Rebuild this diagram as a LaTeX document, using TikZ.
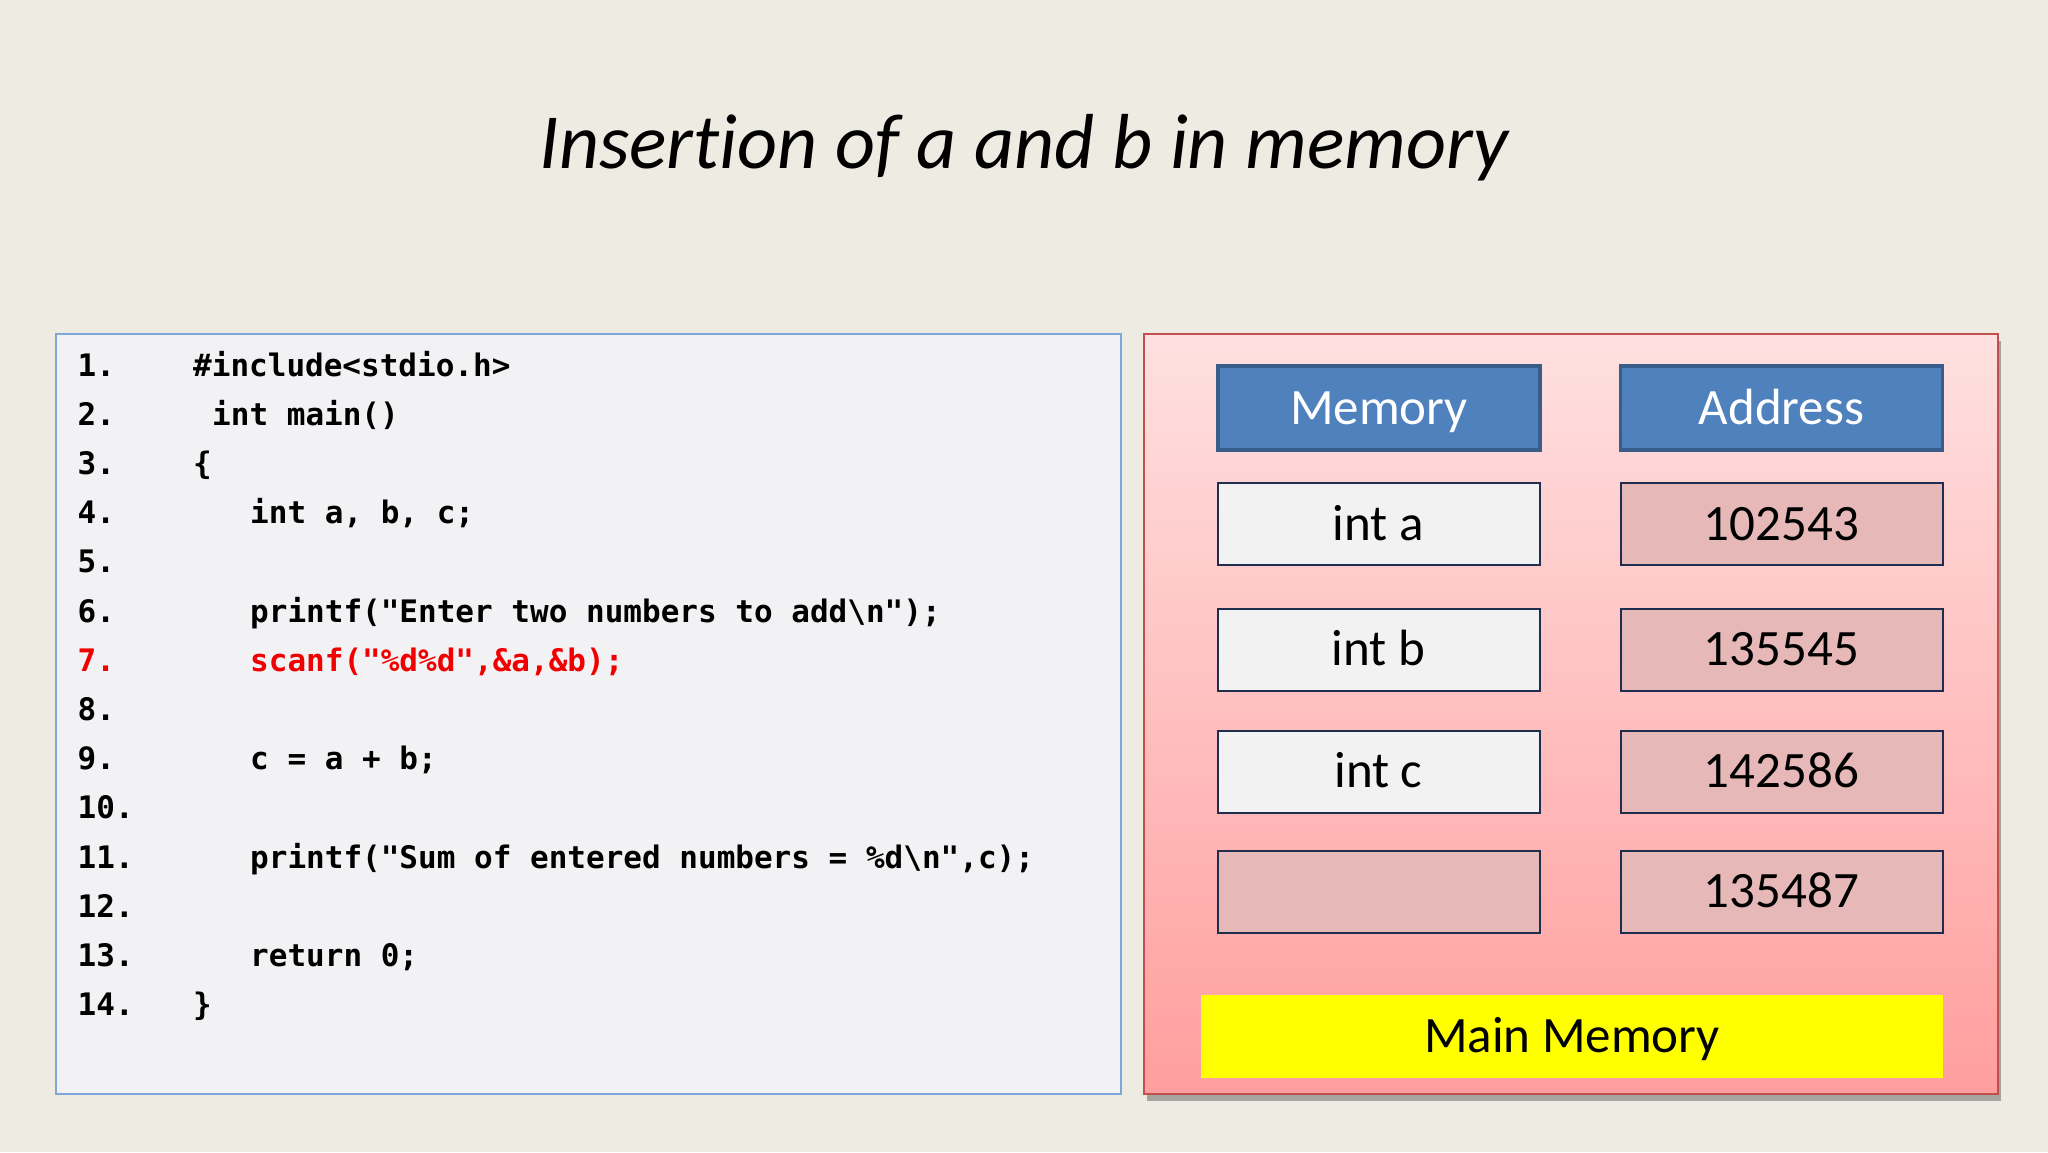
\documentclass[tikz,border=0pt]{standalone}
\usepackage{fontspec}
\usetikzlibrary{shadows}
\newfontfamily\calfont[Ligatures=NoCommon]{Carlito}
\newfontfamily\codefont{DejaVu Sans Mono}

\definecolor{bgcol}{HTML}{EEEBE3}
\definecolor{codefill}{HTML}{F2F2F4}
\definecolor{codeline}{HTML}{7EA6D8}
\definecolor{codered}{HTML}{F00000}
\definecolor{panelline}{HTML}{C0504D}
\definecolor{paneltop}{HTML}{FFE0E0}
\definecolor{panelbot}{HTML}{FF9E9E}
\definecolor{hdrfill}{HTML}{4F81BD}
\definecolor{hdrline}{HTML}{385D8A}
\definecolor{cellline}{HTML}{1F2D4E}
\definecolor{varfill}{HTML}{F2F2F2}
\definecolor{addrfill}{HTML}{E6B9B8}
\definecolor{mainfill}{HTML}{FFFF00}

\tikzset{
	codepanel/.style={draw=codeline, line width=1.5pt, fill=codefill,
		minimum width=1065pt, minimum height=760pt, inner sep=0pt},
	mempanel/.style={draw=panelline, line width=1.5pt, top color=paneltop,
		bottom color=panelbot, minimum width=854pt, minimum height=760pt,
		inner sep=0pt, drop shadow={shadow xshift=3pt, shadow yshift=-7pt,
		fill=black, opacity=.3}},
	hdr/.style={draw=hdrline, line width=3.5pt, fill=hdrfill, text=white,
		minimum width=322pt, minimum height=84pt, inner sep=0pt,
		font=\calfont\fontsize{51}{60}\selectfont, text height=32pt, text depth=0pt},
	cell/.style={draw=cellline, line width=2pt, minimum width=322pt,
		minimum height=82pt, inner sep=0pt,
		font=\calfont\fontsize{51}{60}\selectfont, text height=32pt, text depth=0pt},
	varcell/.style={cell, fill=varfill},
	addrcell/.style={cell, fill=addrfill},
	num/.style={anchor=base west, inner sep=0pt,
		font=\codefont\bfseries\fontsize{31}{37}\selectfont},
	code/.style={num},
}

\begin{document}
\begin{tikzpicture}[x=1pt, y=-1pt]
		\fill[bgcol] (0,0) rectangle (2048,1152);
		\useasboundingbox (0,0) rectangle (2048,1152);

		% title
		\node[anchor=base, inner sep=0pt, font=\calfont\itshape\fontsize{78}{90}\selectfont]
			(title) at (1024,168) {Insertion of a and b in memory};

		% source code
		\node[codepanel] (codebox) at (588.5,714) {};
		\foreach \i in {1,...,6,8,9,...,14}
			\node[num] (n\i) at (77.5, {376+(\i-1)*49.2}) {\i.};
		\node[num, text=codered] (n7) at (77.5, 671.2) {7.};
		\node[code] (c1) at (193,376) {\#include<stdio.h>};
		\node[code] (c2) at (212,425.2) {int main()};
		\node[code] (c3) at (193,474.4) {\{};
		\node[code] (c4) at (250,523.6) {int a, b, c;};
		\node[code] (c6) at (250,622) {printf("Enter two numbers to add\textbackslash n");};
		\node[code, text=codered] (c7) at (250,671.2) {scanf("\%d\%d",\&a,\&b);};
		\node[code] (c9) at (250,769.6) {c = a + b;};
		\node[code] (c11) at (250,868) {printf("Sum of entered numbers = \%d\textbackslash n",c);};
		\node[code] (c13) at (250,966.4) {return 0;};
		\node[code] (c14) at (193,1015.6) {\}};

		% memory table
		\node[mempanel] (panel) at (1571,714) {};
		\node[hdr] (memhdr) at (1379,408) {Memory};
		\node[hdr] (addrhdr) at (1781.5,408) {Address};
		\node[varcell] (vara) at (1378.5,524) {int a};
		\node[addrcell] (addra) at (1781.5,524) {102543};
		\node[varcell] (varb) at (1378.5,649.5) {int b};
		\node[addrcell] (addrb) at (1781.5,649.5) {135545};
		\node[varcell] (varc) at (1378.5,771.5) {int c};
		\node[addrcell] (addrc) at (1781.5,771.5) {142586};
		\node[addrcell] (varfree) at (1378.5,891.5) {};
		\node[addrcell] (addrfree) at (1781.5,891.5) {135487};
		\node[fill=mainfill, minimum width=742pt, minimum height=83pt, inner sep=0pt,
			font=\calfont\fontsize{51}{60}\selectfont, text height=32pt, text depth=0pt]
			(mainmem) at (1572,1036.5) {Main Memory};
	\end{tikzpicture}
\end{document}
